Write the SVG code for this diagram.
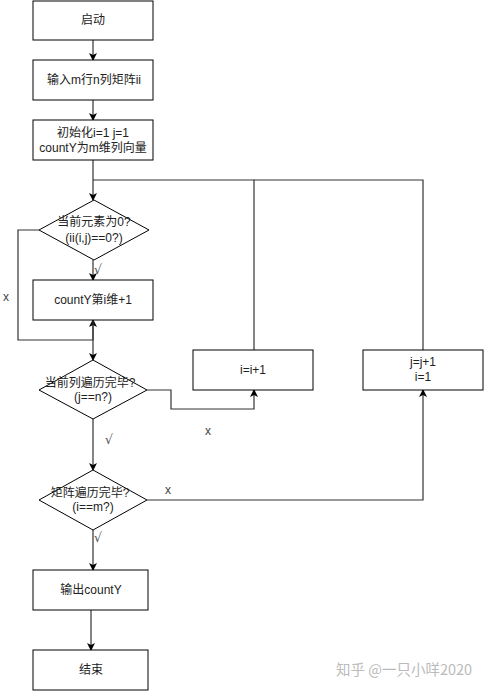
<svg xmlns="http://www.w3.org/2000/svg" width="484" height="692" viewBox="0 0 484 692">
<style>
.n{fill:#fff;stroke:#000;stroke-width:1}
.t{font-family:"Liberation Sans","Noto Sans CJK SC",sans-serif;font-size:12px;fill:#222;text-anchor:middle}
.e{fill:none;stroke:#333;stroke-width:1.2}
.l{font-family:"Liberation Sans","Noto Sans CJK SC",sans-serif;font-size:12px;fill:#444;text-anchor:middle}
.v{font-family:"DejaVu Sans",sans-serif;font-size:13px;fill:#555;text-anchor:middle}
</style>
<defs>
<marker id="a" markerWidth="8" markerHeight="8" refX="7" refY="4" orient="auto" markerUnits="userSpaceOnUse">
<path d="M0,0 L8,4 L0,8 L2,4 Z" fill="#000"/>
</marker>
</defs>
<rect width="484" height="692" fill="#fff"/>
<g id="connectors">
<path class="e" d="M93,40 V60" marker-end="url(#a)"/>
<path class="e" d="M93,100 V120" marker-end="url(#a)"/>
<path class="e" d="M93,160 V200" marker-end="url(#a)"/>
<path class="e" d="M254,350 V180 H93"/>
<path class="e" d="M423,350 V180 H254"/>
<path class="e" d="M93,260 V280" marker-end="url(#a)"/>
<path class="e" d="M39,230 H18 V340 H93 V320" marker-end="url(#a)"/>
<path class="e" d="M93,320 V360" marker-end="url(#a)"/>
<path class="e" d="M147,390 H171 V409 H254 V390" marker-end="url(#a)"/>
<path class="e" d="M93,419 V470" marker-end="url(#a)"/>
<path class="e" d="M147,500 H423 V390" marker-end="url(#a)"/>
<path class="e" d="M93,530 V570" marker-end="url(#a)"/>
<path class="e" d="M91,610 V650" marker-end="url(#a)"/>
<text class="v" x="98" y="274">√</text>
<text class="l" x="6" y="301">x</text>
<text class="l" x="208" y="435">x</text>
<text class="v" x="109" y="444">√</text>
<text class="l" x="168" y="494">x</text>
<text class="v" x="98" y="542">√</text>
</g>
<g id="start"><rect class="n" x="33" y="1" width="120" height="39"/><text class="t" x="93" y="24">启动</text></g>
<g id="input"><rect class="n" x="33" y="60" width="120" height="40"/><text class="t" x="94" y="84">输入m行n列矩阵ii</text></g>
<g id="init"><rect class="n" x="33" y="120" width="120" height="40"/><text class="t" x="93" y="137">初始化i=1 j=1</text><text class="t" x="93" y="152">countY为m维列向量</text></g>
<g id="d1"><path class="n" d="M94,200 L149,230 L94,260 L39,230 Z"/><text class="t" x="94" y="226">当前元素为0?</text><text class="t" x="94" y="242">(ii(i,j)==0?)</text></g>
<g id="inc"><rect class="n" x="33" y="280" width="120" height="40"/><text class="t" x="93" y="304">countY第i维+1</text></g>
<g id="d2"><path class="n" d="M93,360 L147,390 L93,419 L39,390 Z"/><text class="t" x="90" y="387">当前列遍历完毕?</text><text class="t" x="93" y="401">(j==n?)</text></g>
<g id="ii"><rect class="n" x="193" y="350" width="120" height="40"/><text class="t" x="253" y="374">i=i+1</text></g>
<g id="jj"><rect class="n" x="363" y="350" width="120" height="40"/><text class="t" x="423" y="366">j=j+1</text><text class="t" x="423" y="381">i=1</text></g>
<g id="d3"><path class="n" d="M93,470 L147,500 L93,530 L39,500 Z"/><text class="t" x="90" y="497">矩阵遍历完毕?</text><text class="t" x="93" y="511">(i==m?)</text></g>
<g id="out"><rect class="n" x="33" y="570" width="115" height="40"/><text class="t" x="91" y="594">输出countY</text></g>
<g id="end"><rect class="n" x="33" y="650" width="115" height="40"/><text class="t" x="91" y="674">结束</text></g>
<text x="404" y="675" style="font-family:'Noto Sans CJK SC',sans-serif;font-size:14.5px;fill:#bbb;text-anchor:middle">知乎 @一只小咩2020</text>
</svg>
